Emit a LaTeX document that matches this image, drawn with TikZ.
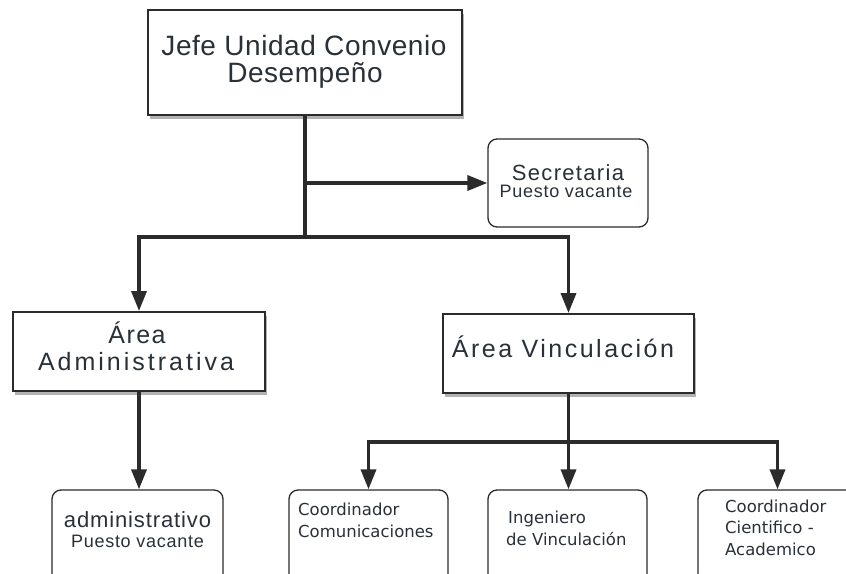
\documentclass[tikz,border=0pt]{standalone}
\usepackage{fontspec}
\setmainfont{Liberation Sans}
\newfontfamily\tah{DejaVu Sans}
\usetikzlibrary{arrows.meta,shadows}
\definecolor{ink}{HTML}{2B2B2B}
\definecolor{txt}{HTML}{2A3038}
\begin{document}
\begin{tikzpicture}[x=1pt,y=-1pt,
  box/.style={draw=ink, line width=2pt, fill=white, inner sep=0pt},
  sbox/.style={box, drop shadow={shadow xshift=2pt, shadow yshift=-4pt, opacity=0.3, fill=black}},
  rbox/.style={draw=ink, line width=1.3pt, fill=white, rounded corners=9pt, inner sep=0pt},
  conn/.style={draw=ink, line width=3.5pt},
  arr/.style={conn, -{Triangle[width=15pt,length=20pt]}},
  lbl/.style={text=txt, inner sep=0pt, anchor=base},
  lblw/.style={lbl, anchor=base west},
]
\useasboundingbox (0,0) rectangle (846,573);
\clip (0,0) rectangle (846,573);
\fill[white] (0,0) rectangle (846,573);

% boxes
\node[sbox, line width=2.6pt, minimum width=314pt, minimum height=105pt] (top) at (305,62.5) {};
\node[rbox, minimum width=160pt, minimum height=88pt] (sec) at (568,183) {};
\node[sbox, minimum width=252pt, minimum height=79pt] (adm) at (139,351.5) {};
\node[sbox, minimum width=251pt, minimum height=79pt] (vinc) at (568.5,353.5) {};
\node[rbox, minimum width=171pt, minimum height=120pt] (admb) at (137.5,550) {};
\node[rbox, minimum width=159pt, minimum height=120pt] (com) at (368.5,550) {};
\node[rbox, minimum width=159pt, minimum height=120pt] (ing) at (567.5,550) {};
\node[rbox, minimum width=159pt, minimum height=120pt] (cient) at (777.5,550) {};

% texts
\node[lbl, font=\fontsize{28}{28}\selectfont\addfontfeature{LetterSpace=2}] (top1) at (304,55) {Jefe Unidad Convenio};
\node[lbl, font=\fontsize{28}{28}\selectfont\addfontfeature{LetterSpace=2}] (top2) at (305,82) {Desempeño};
\node[lbl, font=\fontsize{22}{22}\selectfont\addfontfeature{LetterSpace=6}] (sec1) at (568,180) {Secretaria};
\node[lbl, font=\fontsize{18}{18}\selectfont\addfontfeature{LetterSpace=4}] (sec2) at (566,197) {Puesto vacante};
\node[lbl, font=\fontsize{25}{25}\selectfont\addfontfeature{LetterSpace=6}] (adm1) at (137,343) {Área};
\node[lbl, font=\fontsize{25}{25}\selectfont\addfontfeature{LetterSpace=12}] (adm2) at (136,370) {Administrativa};
\node[lbl, font=\fontsize{25}{25}\selectfont\addfontfeature{LetterSpace=10}] (vinc1) at (563,357) {Área Vinculación};
\node[lbl, font=\fontsize{22}{22}\selectfont\addfontfeature{LetterSpace=4}] (admb1) at (137.5,527) {administrativo};
\node[lbl, font=\fontsize{18}{18}\selectfont\addfontfeature{LetterSpace=4}] (admb2) at (137.5,547) {Puesto vacante};
\node[lblw, font=\tah\fontsize{16.5}{16.5}\selectfont] (com1) at (298,515) {Coordinador};
\node[lblw, font=\tah\fontsize{16.5}{16.5}\selectfont] (com2) at (298,537) {Comunicaciones};
\node[lblw, font=\tah\fontsize{16.5}{16.5}\selectfont] (ing1) at (508,523) {Ingeniero};
\node[lblw, font=\tah\fontsize{16.5}{16.5}\selectfont] (ing2) at (506,545) {de Vinculación};
\node[lblw, font=\tah\fontsize{16.5}{16.5}\selectfont] (cient1) at (725,512) {Coordinador};
\node[lblw, font=\tah\fontsize{16.5}{16.5}\selectfont] (cient2) at (725,533) {Cientifico -};
\node[lblw, font=\tah\fontsize{16.5}{16.5}\selectfont] (cient3) at (725,555) {Academico};

% connectors
\coordinate (j1) at (305,237);
\coordinate (j2) at (568.5,442);
\draw[conn] (top.south) -- (j1);
\draw[arr] (top.south |- sec.west) -- (sec.west);
\draw[arr] (j1) -| (adm.north);
\draw[arr] (j1) -| (vinc.north);
\draw[arr] (adm.south) -- (adm.south |- admb.north);
\draw[conn] (vinc.south) -- (j2);
\draw[arr] (j2) -| (com.north);
\draw[arr] (j2) -- (j2 |- ing.north);
\draw[arr] (j2) -| (cient.north);
\end{tikzpicture}
\end{document}
